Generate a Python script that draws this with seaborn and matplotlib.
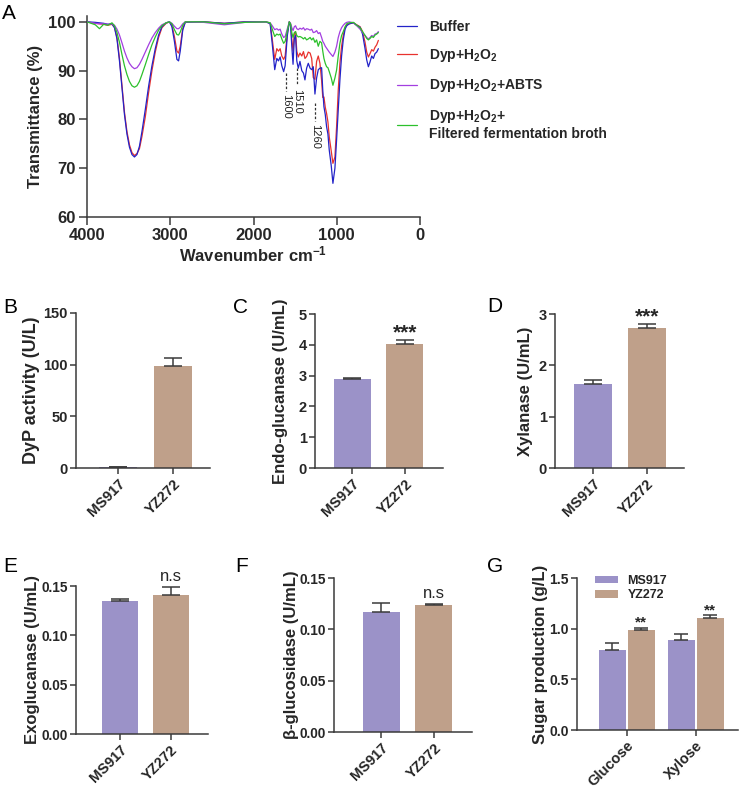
import pandas as pd
import seaborn as sns
import matplotlib.pyplot as plt

# ---------------- data ----------------
# FTIR spectra (panel A)
WAVENUMBER = [4000, 3900, 3850, 3800, 3750, 3700, 3670, 3640, 3610, 3580,
              3550, 3520, 3490, 3460, 3430, 3400, 3370, 3340, 3300, 3260,
              3220, 3180, 3140, 3100, 3050, 3010, 2980, 2950, 2920, 2900,
              2880, 2850, 2820, 2600, 2350, 2100, 1850, 1800, 1775, 1745,
              1720, 1700, 1680, 1660, 1638, 1620, 1595, 1570, 1555, 1540,
              1525, 1510, 1495, 1480, 1462, 1442, 1420, 1400, 1382, 1362,
              1342, 1320, 1301, 1282, 1262, 1242, 1222, 1202, 1182, 1168,
              1154, 1138, 1122, 1106, 1090, 1066, 1046, 1022, 1002, 982,
              962, 942, 922, 900, 880, 850, 800, 760, 720, 690,
              660, 640, 620, 600, 580, 560, 540, 520, 500]

T_BUFFER = [100.0, 99.9, 99.8, 99.7, 99.5, 99.6, 98.8, 96.5, 92.0, 86.5,
            81.0, 77.0, 74.3, 72.8, 72.3, 72.8, 74.5, 77.5, 82.0, 86.8,
            91.0, 94.5, 97.3, 99.0, 99.8, 100.0, 99.0, 96.0, 92.3, 92.0,
            94.0, 98.3, 99.9, 100.0, 99.7, 100.0, 100.0, 99.6, 95.5, 90.2,
            92.5, 92.0, 92.8, 91.0, 89.8, 91.0, 97.0, 100.0, 99.3, 95.0,
            91.3, 96.5, 97.2, 92.0, 90.5, 91.9, 90.0, 89.5, 88.1, 90.5,
            91.5, 90.5, 90.2, 90.8, 85.2, 88.5, 90.2, 90.5, 90.6, 86.0,
            82.6, 81.0, 78.5, 77.0, 73.7, 70.5, 66.9, 70.0, 75.8, 82.0,
            88.1, 93.0, 96.3, 98.5, 99.2, 99.6, 99.8, 99.3, 98.9, 97.5,
            94.5, 92.2, 90.8, 91.8, 93.0, 92.5, 93.5, 93.8, 94.5]

T_DYP = [100.0, 99.7, 99.6, 99.5, 99.3, 99.5, 98.9, 96.8, 92.5, 87.0,
         81.5, 77.5, 74.8, 73.2, 72.6, 73.0, 74.0, 76.5, 80.5, 85.5,
         90.0, 93.8, 96.8, 98.8, 99.7, 100.0, 99.3, 97.0, 94.0, 93.6,
         95.0, 98.6, 99.9, 100.0, 99.7, 100.0, 100.0, 99.7, 96.5, 92.3,
         94.5, 94.0, 94.5, 93.0, 92.3, 93.0, 97.5, 100.0, 99.5, 96.5,
         94.0, 97.5, 98.0, 94.0, 92.8, 93.6, 93.0, 93.9, 92.5, 92.9,
         93.8, 93.6, 92.5, 88.6, 88.2, 91.9, 93.0, 91.5, 88.0, 84.5,
         84.6, 82.5, 81.2, 79.5, 76.4, 73.5, 71.0, 72.3, 78.5, 86.0,
         91.5, 95.0, 97.2, 98.8, 99.4, 99.6, 99.8, 99.4, 99.0, 98.0,
         95.8, 93.8, 92.8, 93.5, 94.3, 94.0, 94.8, 95.3, 96.2]

T_ABTS = [100.0, 99.7, 99.6, 99.6, 99.5, 99.6, 99.3, 98.5, 97.3, 95.7,
          94.0, 92.6, 91.5, 90.8, 90.4, 90.6, 91.3, 92.3, 93.8, 95.3,
          96.7, 97.8, 98.7, 99.4, 99.8, 100.0, 99.7, 99.1, 98.6, 98.6,
          98.9, 99.6, 100.0, 99.9, 99.4, 99.9, 100.0, 99.8, 99.2, 98.4,
          98.6, 98.3, 98.5, 97.5, 96.8, 97.0, 98.5, 100.0, 99.7, 98.8,
          98.2, 99.0, 99.2, 98.6, 98.4, 98.7, 98.5, 98.8, 98.3, 98.6,
          98.5, 98.3, 98.5, 97.8, 97.9, 98.2, 97.6, 97.8, 96.8, 96.0,
          95.6, 95.0, 94.6, 94.2, 93.8, 93.3, 92.9, 93.8, 95.0, 96.8,
          98.0, 98.8, 99.3, 99.7, 99.9, 100.0, 99.8, 99.2, 98.5, 97.8,
          97.2, 96.8, 96.5, 96.8, 97.2, 97.0, 97.5, 97.6, 98.0]

T_BROTH = [100.0, 99.4, 98.6, 99.5, 99.3, 99.8, 99.2, 97.8, 95.8, 93.3,
           91.0, 89.2, 87.8, 86.9, 86.6, 86.9, 87.8, 89.2, 91.2, 93.3,
           95.3, 96.9, 98.3, 99.2, 99.8, 100.0, 99.6, 98.4, 97.4, 97.3,
           97.9, 99.3, 100.0, 100.0, 99.6, 99.9, 100.0, 99.8, 98.5, 97.0,
           97.5, 97.3, 97.5, 96.5, 95.6, 96.0, 98.0, 100.0, 99.6, 97.8,
           96.8, 97.8, 98.0, 97.2, 96.9, 97.0, 96.8, 96.5, 96.8, 96.3,
           96.5, 96.8, 96.3, 96.7, 95.8, 96.3, 95.0, 96.0, 95.7, 94.0,
           92.5, 91.5, 90.8, 90.6, 89.8, 88.5, 87.0, 88.5, 90.1, 93.0,
           95.6, 97.2, 98.0, 99.0, 99.6, 99.8, 99.9, 99.3, 98.8, 98.0,
           97.2, 96.6, 96.3, 96.6, 97.0, 96.8, 97.3, 97.5, 97.8]

SAMPLES = ["Buffer", "Dyp+H$_2$O$_2$", "Dyp+H$_2$O$_2$+ABTS",
           "Dyp+H$_2$O$_2$+\nFiltered fermentation broth"]
PEAK_POS = [1610, 1475, 1262]
PEAK_LABELS = ["1600", "1510", "1260"]

# enzyme activities (panels B-F): mean and upper SD
STRAINS = ["MS917", "YZ272"]
DYP_MEAN, DYP_SD = [0.8, 99.0], [0.4, 7.5]
ENDO_MEAN, ENDO_SD = [2.88, 4.03], [0.05, 0.12]
XYL_MEAN, XYL_SD = [1.64, 2.73], [0.07, 0.07]
EXO_MEAN, EXO_SD = [0.135, 0.141], [0.0015, 0.008]
BGL_MEAN, BGL_SD = [0.117, 0.124], [0.009, 0.001]

# sugar production (panel G)
SUGARS = ["Glucose", "Xylose"]
SUGAR_MS917, SUGAR_MS917_SD = [0.79, 0.89], [0.07, 0.06]
SUGAR_YZ272, SUGAR_YZ272_SD = [0.99, 1.11], [0.02, 0.02]

# ---------------- style ----------------
sns.set_theme(style="ticks")
plt.rcParams["font.family"] = ["Liberation Sans", "DejaVu Sans"]
plt.rcParams["font.weight"] = "bold"
plt.rcParams["axes.labelweight"] = "bold"
plt.rcParams["mathtext.fontset"] = "custom"
plt.rcParams["mathtext.rm"] = "Liberation Sans:bold"
plt.rcParams["mathtext.bf"] = "Liberation Sans:bold"
plt.rcParams["mathtext.it"] = "Liberation Sans:bold"
plt.rcParams["mathtext.default"] = "rm"

AXC = "#3a3a3a"
PURPLE = "#9b92c8"
TAN = "#bfa08a"
LINE_COLORS = ["#2323c8", "#e8322e", "#a33fe0", "#2cc02c"]

W, H = 740, 791
fig = plt.figure(figsize=(W / 100, H / 100), dpi=100)


def px_axes(l, t, r, b):
    return fig.add_axes([l / W, 1 - b / H, (r - l) / W, (b - t) / H])


def style_axes(ax, tick_size):
    sns.despine(ax=ax)
    for s in ("left", "bottom"):
        ax.spines[s].set_color(AXC)
        ax.spines[s].set_linewidth(1.1)
    ax.tick_params(width=1.1, length=4, color=AXC, labelsize=tick_size, pad=2)
    for lab in ax.get_xticklabels() + ax.get_yticklabels():
        lab.set_fontweight("bold")


def rotate_xlabels(ax):
    for lab in ax.get_xticklabels():
        lab.set_rotation(45)
        lab.set_ha("right")
        lab.set_rotation_mode("anchor")
        lab.set_fontsize(10.5)


def letter(x, y, s):
    fig.text(x / W, 1 - y / H, s, fontsize=15, fontweight="normal",
             ha="left", va="baseline", color="black")


# ---------------- panel A ----------------
axA = px_axes(87, 16, 420, 217)
spectra = pd.concat([
    pd.DataFrame({"wavenumber": WAVENUMBER, "T": t, "sample": s})
    for s, t in zip(SAMPLES, [T_BUFFER, T_DYP, T_ABTS, T_BROTH])
])
sns.lineplot(data=spectra, x="wavenumber", y="T", hue="sample",
             hue_order=SAMPLES, palette=LINE_COLORS, linewidth=0.9,
             errorbar=None, ax=axA)
for line, z in zip(axA.lines, [4, 3, 5, 6]):
    line.set_zorder(z)
axA.set_xlim(4000, 0)
axA.set_ylim(60, 101.2)
axA.set_xticks([4000, 3000, 2000, 1000, 0])
axA.set_yticks([60, 70, 80, 90, 100])
axA.set_xlabel("Wavenumber cm$^{-1}$", fontsize=12, labelpad=1)
axA.set_ylabel("Transmittance (%)", fontsize=12)
axA.yaxis.set_label_coords((43 - 87) / 333, 0.5)
style_axes(axA, 12)
axA.tick_params(length=6)

# dashed markers for the lignin bands
tops = [89.5, 90.6, 83.3]
for xp, lab, top in zip(PEAK_POS, PEAK_LABELS, tops):
    axA.plot([xp, xp], [top, top - 3.6], ls=(0, (2, 1.5)), color="#333333", lw=0.9)
    axA.text(xp, top - 4.3, lab, rotation=270, ha="center", va="top",
             fontsize=8, fontweight="normal", color="#222222")

handles, labels = axA.get_legend_handles_labels()
axA.legend(handles, labels, frameon=False, loc="upper left",
           bbox_to_anchor=(397 / W, 1 - 20 / H), bbox_transform=fig.transFigure,
           borderpad=0, borderaxespad=0, handlelength=1.45, handletextpad=0.85,
           labelspacing=0.95, prop={"weight": "bold", "size": 10})
letter(2, 19, "A")

# ---------------- panels B-F ----------------
bar_panels = [
    # letter, letter xy, axes px, mean, sd, ylabel, ylabel size, ylim, yticks, yticklabels,
    # xlim, ylabel right edge px, tick size, significance
    ("B", (3, 313), (76, 313, 210, 468), DYP_MEAN, DYP_SD, "DyP activity (U/L)", 13,
     (0, 150), [0, 50, 100, 150], ["0", "50", "100", "150"], (-0.76, 1.67), 40, 10.5, None),
    ("C", (233, 313), (315, 314, 443, 468), ENDO_MEAN, ENDO_SD, "Endo-glucanase (U/mL)", 12,
     (0, 5), [0, 1, 2, 3, 4, 5], ["0", "1", "2", "3", "4", "5"], (-0.7, 1.72), 288, 10.5, "***"),
    ("D", (487, 312), (555, 314, 684, 468), XYL_MEAN, XYL_SD, "Xylanase (U/mL)", 12,
     (0, 3), [0, 1, 2, 3], ["0", "1", "2", "3"], (-0.7, 1.69), 533, 10.5, "***"),
    ("E", (3, 572), (76, 586, 208, 734), EXO_MEAN, EXO_SD, "Exoglucanase (U/mL)", 12,
     (0, 0.15), [0, 0.05, 0.10, 0.15], ["0.00", "0.05", "0.10", "0.15"], (-0.86, 1.73), 40, 9.8, "n.s"),
    ("F", (235, 572), (334, 578, 472, 732), BGL_MEAN, BGL_SD, "β-glucosidase (U/mL)", 12,
     (0, 0.15), [0, 0.05, 0.10, 0.15], ["0.00", "0.05", "0.10", "0.15"], (-0.89, 1.72), 299, 9.8, "n.s"),
]

for (let, lxy, box, mean, sd, ylab, ysize, ylim, yt, ytl, xlim, lab_r, tsize, sig) in bar_panels:
    ax = px_axes(*box)
    df = pd.DataFrame({"strain": STRAINS, "value": mean})
    sns.barplot(data=df, x="strain", y="value", hue="strain", hue_order=STRAINS,
                palette=[PURPLE, TAN], saturation=1, width=0.7, legend=False,
                linewidth=0, errorbar=None, ax=ax)
    bars = sorted([b for c in ax.containers for b in c], key=lambda b: b.get_x())
    xs = [b.get_x() + b.get_width() / 2 for b in bars]
    ax.errorbar(xs, mean, yerr=[[0] * len(sd), sd], fmt="none", ecolor=AXC,
                elinewidth=1.1, capsize=6.5, capthick=1.1, zorder=1)
    ax.set_ylim(*ylim)
    ax.set_xlim(*xlim)
    ax.set_yticks(yt)
    ax.set_yticklabels(ytl)
    ax.set_xlabel("")
    ax.set_ylabel(ylab, fontsize=ysize)
    ax.yaxis.set_label_coords((lab_r - box[0]) / (box[2] - box[0]), 0.5)
    style_axes(ax, tsize)
    rotate_xlabels(ax)
    if sig == "***":
        ax.annotate(sig, xy=(xs[1], mean[1] + sd[1]), xytext=(0, 1),
                    textcoords="offset points", ha="center", va="baseline",
                    fontsize=15, fontweight="bold")
    elif sig == "n.s":
        ax.annotate(sig, xy=(xs[1], mean[1] + sd[1]), xytext=(0, 4),
                    textcoords="offset points", ha="center", va="baseline",
                    fontsize=12, fontweight="normal")
    letter(lxy[0], lxy[1], let)

# ---------------- panel G ----------------
axG = px_axes(577, 578, 738, 730)
sugar = pd.DataFrame({
    "sugar": SUGARS * 2,
    "strain": [STRAINS[0]] * 2 + [STRAINS[1]] * 2,
    "value": SUGAR_MS917 + SUGAR_YZ272,
})
sns.barplot(data=sugar, x="sugar", y="value", hue="strain", hue_order=STRAINS,
            palette=[PURPLE, TAN], saturation=1, width=0.84, gap=0.08,
            linewidth=0, errorbar=None, ax=axG)
for i, (cont, mean, sd) in enumerate(zip(axG.containers, [SUGAR_MS917, SUGAR_YZ272],
                                         [SUGAR_MS917_SD, SUGAR_YZ272_SD])):
    xs = [b.get_x() + b.get_width() / 2 for b in cont]
    axG.errorbar(xs, mean, yerr=[[0] * len(sd), sd], fmt="none", ecolor=AXC,
                 elinewidth=1.1, capsize=5, capthick=1.1, zorder=1)
    if i == 1:
        for x, m, s in zip(xs, mean, sd):
            axG.annotate("**", xy=(x, m + s), xytext=(0, 1),
                         textcoords="offset points", ha="center", va="baseline",
                         fontsize=11, fontweight="bold")
axG.set_ylim(0, 1.5)
axG.set_xlim(-0.72, 1.61)
axG.set_yticks([0, 0.5, 1.0, 1.5])
axG.set_yticklabels(["0.0", "0.5", "1.0", "1.5"])
axG.set_xlabel("")
axG.set_ylabel("Sugar production (g/L)", fontsize=12)
axG.yaxis.set_label_coords((548 - 577) / 161, 0.5)
style_axes(axG, 10)
rotate_xlabels(axG)
axG.legend(frameon=False, loc="upper left", bbox_to_anchor=((595 - 577) / 161, 1.02),
           borderpad=0, borderaxespad=0, handlelength=1.8, handleheight=0.5,
           handletextpad=0.8, labelspacing=0.2, prop={"weight": "bold", "size": 9})
letter(487, 572, "G")

fig.savefig("out.png", dpi=100)
